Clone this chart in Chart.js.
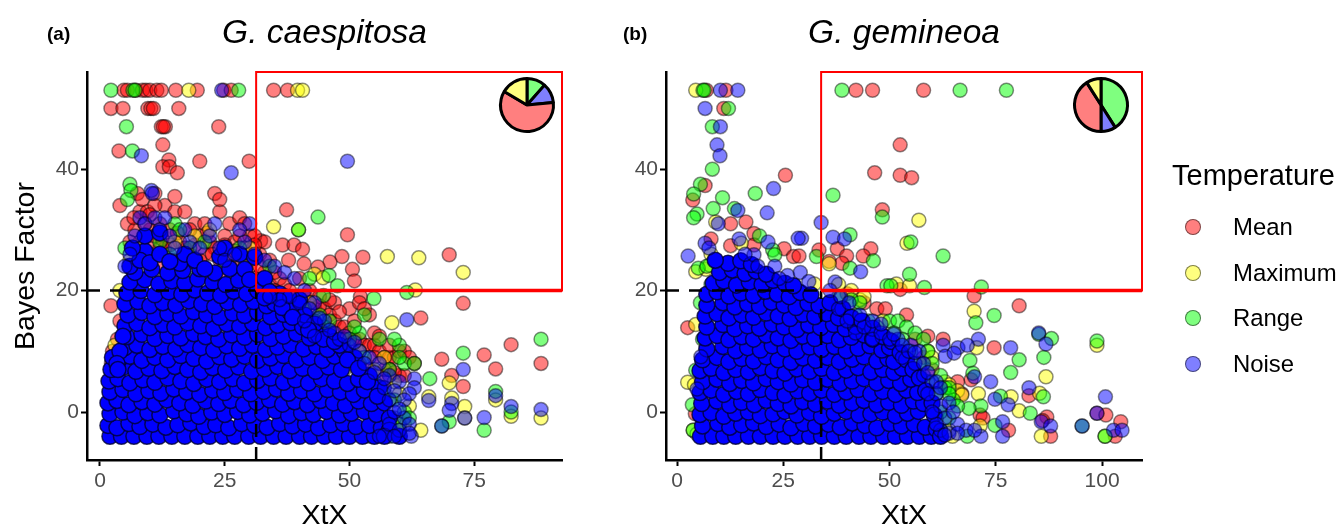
<!DOCTYPE html>
<html>
<head>
<meta charset="utf-8">
<title>G. caespitosa / G. gemineoa</title>
<script src="https://cdn.jsdelivr.net/npm/chart.js@4/dist/chart.umd.min.js"></script>
<style>
  body { margin: 0; background: #fff; width: 1337px; height: 526px; overflow: hidden; position: relative; font-family: "Liberation Sans", Arial, sans-serif; }
  canvas { position: absolute; }
  .tag { position: absolute; font-weight: bold; font-size: 19px; top: 23px; }
  #leyenda { position: absolute; left: 1172px; top: 158px; }
  #leyenda .titulo { font-size: 29px; line-height: 34px; margin-bottom: 12px; white-space: nowrap; }
  #leyenda .fila { position: relative; height: 45.7px; line-height: 45.7px; font-size: 23.9px; padding-left: 61px; white-space: nowrap; }
  #leyenda .punto { position: absolute; left: 13px; top: 15px; width: 14px; height: 14px; border-radius: 50%; border: 1.5px solid rgba(0,0,0,0.5); }
</style>
</head>
<body>
<canvas id="chartA" width="600" height="526" style="left:0;top:0"></canvas>
<canvas id="chartB" width="600" height="526" style="left:579px;top:0"></canvas>
<canvas id="pieA" width="60" height="60" style="left:497px;top:75px"></canvas>
<canvas id="pieB" width="60" height="60" style="left:1071px;top:75px"></canvas>
<div class="tag" style="left:47px">(a)</div>
<div class="tag" style="left:623px">(b)</div>
<div id="leyenda"></div>

<script>
// Categorías y colores
const categorias = ['Mean', 'Maximum', 'Range', 'Noise'];
const rellenos = ['rgba(255,0,0,0.5)', 'rgba(255,255,0,0.5)', 'rgba(0,255,0,0.5)', 'rgba(0,0,255,0.5)'];

// Ejes
const ticksXA = [0, 25, 50, 75];
const ticksXB = [0, 25, 50, 75, 100];
const ticksY = [0, 20, 40];

// Umbrales y recuadros
const corteXA = [[31.3, -7.9], [31.3, 20]];
const corteYA = [[-2.6, 20], [31.3, 20]];
const cajaA = [[31.3, 20], [92.6, 20], [92.6, 56], [31.3, 56], [31.3, 20]];
const corteXB = [[33.9, -7.9], [33.9, 20]];
const corteYB = [[-2.6, 20], [33.9, 20]];
const cajaB = [[33.9, 20], [109.4, 20], [109.4, 56], [33.9, 56], [33.9, 20]];

// Tartas (orden horario desde arriba: Range, Noise, Mean, Maximum)
const tartaEtiquetas = ['Range', 'Noise', 'Mean', 'Maximum'];
const tartaA = [11.5, 12, 60, 16.5];
const tartaB = [41, 9, 41, 9];

// ---- Panel (a) G. caespitosa ----
const meanA = [[4.8,53],[5.5,53],[7.2,53],[8.5,53],[9.2,53],[10,53],[11.4,53],[12.3,53],[15.2,53],[19.5,53],[24.8,53],[26.3,53],[34.8,53],[37.6,53],
[2.2,50],[4.6,50],[9.6,50],[10.2,50],[10.7,50],[15.8,50],[12.3,47],[13.1,47],[12.7,47],[23.8,47],[3.8,43],[12.6,44],[13.8,41.5],[12.6,40.4],[13.9,40.4],[15.5,39.4],[20,41.3],[29.9,41.3],
[37.4,33.3],[49.6,29.2],[36.6,27.5],[38.9,27.5],[40.6,26.8],[48.5,25.6],[52.7,25.5],[70,25.9],[46.1,24.7],[50.6,23.5],[51,21.6],[40.9,24.4],[37.8,25],[43.7,23.9],[52.2,19],[32.2,28.2],
[72.8,17.9],[64.3,15.5],[82.4,11.1],[77,9.4],[68.5,8.7],[88.4,8],[79.3,7.1],[70.5,6],[72.8,4.2],
[4,34],[5.5,31],[7,30],[8,33],[7.5,36],[8.5,35],[9.5,33],[11,36],[13,34],[15,35.5],[15,33],[17,33],[19,31],[21,31],[23,36],[24,33],[24,35],[26,31],[28,32],[29,31],[30,29],[31,29],[33,28],[20,29],[22,28],[25,29],[27,28],[12,31],[14,30],[10,28],[9,26],[13,27],[16,28],[18,26],[23,27],[28,25],[30,26],[32,26],[33,23],[31,22],[34,21],[12,24],[16,23],[20,23],[24,23],[28,22],[7,24],[8,28],[36,22],[37,21],[38,20],
[39,19],[41,19],[43,17],[45,17],[46,16],[47,15],[48,14],[49,14],[50,13],[51,12],[52,12],[53,11],[54,11],[55,11],[56,10],[57,9],[58,9],[59,9],[60,10],[61,10],[62,9],[63,8],[58,7],[60,6],[57,5],[50,17],[52,18],[54,16],[53,17],[47,18],[49,12],[61,6],
[2.5,10],[3,9],[2.3,8],[2.2,17.5],[4,15],[3.5,12],[10,30],[11,34],[9,29],[12,27],[15,25],[18,30],[21,26],[26,26],[30,24],[35,23],[40,22],[42,20],[44,19],
[6,28],[6.8,32],[9,31],[10,32.5],[11,29],[12.5,28.5],[14,27.5],[15.5,29.5],[17,27],[17.5,24.5],[19,27.5],[20,25],[21.5,29.5],[22.5,26],[24,25],[25,27.5],[26,24],[27,26.5],[28,29],[29,27],[31,27.5],[32,24],[34,25],[35,20],[36,19],[38,18],[40,17],[42,15.5],[44,14],[46,12],[48,11],[50,9.5],[52,8],[54,7],[55,9],[57,7],[59,6.5],[42,18],[44,17.5],[46,18.5],[48,16.5],[51,15],[55,13],[56,12.5],[58,11]];
const maximumA = [[17.8,53],[39.6,53],[40.6,53],[34.8,30.5],[39.8,30],[57.6,25.6],[63.9,25.4],[72.8,23],[43,22.7],[44.7,22.1],[63.2,20.1],[58.5,14.7],[70,4.8],[65.9,2.5],[70.5,2.3],[79.3,2],[73.1,0.9],[82.4,-0.7],[88.4,-1],[73.1,-1],[64.3,-3],
[8,27],[13,22],[19,29],[29,24],[34,20],[42,18],[46,13],[50,8],[52,10],[55,7],[57,9],[59,5],[60,3],[62,1],[61,-2],[55,-3],[50,-4],[3,11],[4,20],
[40,16],[44,13],[47,10],[49,7],[53,6],[56,4],[58,2],[59,-1],[60,-3],[57,-3.8],[53,-4],[48,-4],[30,27],[22,30],[15,28],[6,25]];
const rangeA = [[2.2,53],[6.6,53],[7,53],[27.8,53],[5.3,47],[6.5,43],[43.7,32.1],[39.8,30],[45.9,22.5],[47.6,20.8],[44.8,19.2],[54.9,18.7],[61.5,19.7],[88.4,12],[72.8,9.7],[66.1,5.5],[79.3,3.4],[82.4,0],[70,-1.6],[68.5,-2.3],[77,-3],
[6,37.5],[6.2,36.5],[5.5,35],[15,31],[16,30],[12,28],[18,27],[25,24],[34,24],[42,22],[44,16],[45,14],[47,11],[52,13],[53,16],[51,14],[60,11],[61,8],[63,8],[60,9],[59,12],[56,12],[58,7],[3,9],[18,22],[26,21],[33,21],[38,18],[61,0],
[41,17],[43,15],[46,15],[48,9],[50,12],[53,9],[55,5],[57,3],[59,2],[60,-2],[62,-1],[58,-4],[54,-4],[2.6,8.5],[5,27],[14,26],[21,28],[28,27]];
const noiseA = [[24.4,53],[8.3,42.2],[26.3,39.4],[49.6,41.3],[10.3,36.5],[10.5,36],[61.5,15.2],[72.8,7],[65.9,1.9],[79.3,2.7],[70.5,1.4],[70,0.3],[82.4,0.9],[88.4,0.4],[77,-0.9],[73.1,-1],[68.5,-2.3],[62.4,-4],[63,5.5],[63,4],
[5,24],[6,26],[7,29],[8,32],[9,31],[11,32],[12,30],[14,29],[15,27],[18,28],[20,27],[22,29],[24,27],[25,25],[27,26],[29,28],[30,31],[31,26],[33,25],[35,24],[37,23],[39,22],[41,20],[43,18],[45,15],[47,13],[48,12],[50,11],[52,10],[54,9],[56,8],[58,6],[60,5],[62,3],[61,-1],[58,-2],[60,-3],[59,0],[58,2],[57,4],
[38,19],[40,18],[42,17],[44,15.5],[46,13.5],[49,12.5],[51,11.5],[53,8],[55,6.5],[57,5.5],[59,3.5],[61,2],[60,0.5],[62,-2],[62,-3.5],[59,-4],[56,-4],[41,15],[43,12.5],[36,18.5],[34,19],[28,30],[23,31],[17,30],[13,32]];
// Zona saturada de Noise
const nucleoA = [[2,-4],[4.3,-4],[6.8,-4],[9.4,-4],[11.8,-4],[14.4,-4],[17,-4],[19.6,-4],[22,-4],[24.6,-4],[27,-4],[29.8,-4],[32.2,-4],[34.8,-4],[37.3,-4],[40,-4],[42.4,-4],[45,-4],[47.4,-4],[50,-4],[52.6,-4],[55,-4],
[1.6,-2.2],[3.4,-2.6],[5.8,-1.9],[8,-2.4],[10.6,-2],[13.2,-2.5],[15.6,-2.1],[18.2,-1.8],[20.9,-2.4],[23.2,-2.1],[25.8,-2.6],[28.4,-1.9],[31,-2.2],[33.5,-2.5],[36,-1.9],[38.6,-2.3],[41.2,-2],[43.8,-2.6],[46.2,-2.1],[48.8,-1.9],[51.3,-2.4],[54,-2.2],[56.4,-2.6],
[2,-0.3],[4.6,0],[7,-0.6],[9.6,-0.1],[12,-0.5],[14.8,0.2],[17.4,-0.3],[19.8,-0.7],[22.4,0],[25,-0.4],[27.6,0.1],[30,-0.5],[32.6,-0.2],[35.2,0.2],[37.8,-0.6],[40.4,-0.1],[42.8,-0.4],[45.4,0.1],[48,-0.5],[50.4,-0.2],[53,0.1],[55.4,-0.4],
[1.6,1.5],[3.4,1.9],[5.8,1.2],[8.4,1.7],[11,1.3],[13.4,2],[16,1.5],[18.6,1.1],[21.2,1.8],[23.8,1.4],[26.2,1.9],[28.8,1.2],[31.4,1.6],[34,2],[36.6,1.3],[39,1.7],[41.6,1.2],[44.2,1.9],[46.8,1.5],[49.2,1.1],[51.8,1.8],[54.4,1.4],
[2,3.3],[4.6,3.7],[7.2,3],[9.8,3.5],[12.2,3.1],[14.8,3.8],[17.4,3.3],[20,2.9],[22.6,3.6],[25,3.2],[27.6,3.7],[30.2,3],[32.8,3.4],[35.4,3.8],[37.8,3.1],[40.4,3.5],[43,3],[45.6,3.7],[48.2,3.3],[50.8,2.9],[53,3.6],
[1.8,5.1],[3.6,5.5],[6,4.8],[8.6,5.3],[11,4.9],[13.6,5.6],[16.2,5.1],[18.8,4.7],[21.4,5.4],[24,5],[26.6,5.5],[29,4.8],[31.6,5.2],[34.2,5.6],[36.8,4.9],[39.2,5.3],[41.8,4.8],[44.4,5.5],[47,5.1],[49.6,4.7],[51.8,5.4],
[2.2,7],[4.8,7.4],[7.2,6.7],[9.8,7.2],[12.4,6.8],[15,7.5],[17.6,7],[20.2,6.6],[22.6,7.3],[25.2,6.9],[27.8,7.4],[30.4,6.7],[33,7.1],[35.6,7.5],[38,6.8],[40.6,7.2],[43.2,6.7],[45.8,7.4],[48.4,7],
[4,8.8],[6,9.2],[8.4,8.5],[11,9],[13.6,8.6],[16.2,9.3],[18.8,8.8],[21.4,8.4],[24,9.1],[26.4,8.7],[29,9.2],[31.6,8.5],[34.2,8.9],[36.8,9.3],[39.4,8.6],[42,9],[44.6,8.5],[47,9.2],
[5,10.6],[7.4,11],[10,10.3],[12.6,10.8],[15.2,10.4],[17.6,11.1],[20.2,10.6],[22.8,10.2],[25.4,10.9],[28,10.5],[30.6,11],[33.2,10.3],[35.6,10.7],[38.2,11.1],[40.8,10.4],[43.4,10.8],[45.6,10.3],
[5.4,12.4],[8.4,12.8],[11,12.1],[13.6,12.6],[16.2,12.2],[18.8,12.9],[21.2,12.4],[23.8,12],[26.4,12.7],[29,12.3],[31.6,12.8],[34.2,12.1],[36.8,12.5],[39.4,12.9],[42,12.2],[43.8,12.6],
[5,14.2],[7.4,14.6],[10,13.9],[12.6,14.4],[15,14],[17.6,14.7],[20.2,14.2],[22.8,13.8],[25.4,14.5],[28,14.1],[30.6,14.6],[33.2,13.9],[35.6,14.3],[38.2,14.7],[40.6,14],
[5.6,16],[8.4,16.4],[11,15.7],[13.6,16.2],[16.2,15.8],[18.8,16.5],[21.4,16],[24,15.6],[26.6,16.3],[29,15.9],[31.6,16.4],[34.2,15.7],[36.8,16.1],[38,16.5],
[5,17.8],[7.6,18.2],[10,17.5],[12.6,18],[15.2,17.6],[17.8,18.3],[20.4,17.8],[23,17.4],[25.6,18.1],[28.2,17.7],[30.8,18.2],[33.4,17.5],[35,17.9],
[5.4,19.6],[8.2,20],[11,19.3],[13.8,19.8],[16.4,19.4],[19,20.1],[21.6,19.6],[24.2,19.2],[26.8,19.9],[29.4,19.5],[31.6,20],
[6,21.4],[9,21.8],[11.8,21.1],[14.4,21.6],[17,21.2],[19.6,21.9],[22.6,21.4],[25.2,21],[27.8,21.7],
[7,23],[10.4,23.5],[13.6,22.9],[16.6,23.3],[20,23.6],[23,22.9],[9,26.5],[16,24.5],[24,25.6],[28,26],[31,25.5],
[6,24],[8,25],[10,24.6],[12,26],[14,24.8],[17,26],[19,25],[21,23.6],[26,23.6],[29,23.5],[6.5,27],[9,29],[12,29.5],[25,27],[30,21.8],[33,22],[36,19.5],[39,17.5],[41,16],[43,14.5],[46,12.5],[49,10],[51,9],[54,6],[56,4],[57,1.5],[58,-1],[58,-3],[57,-4],[60,-4],[48,11],[40,18.5],[37,19],[34,19.8],[2.5,9],[4,10],
[33,18.8],[36.5,17.2],[38.6,15.6],[41.8,13.5],[44.8,12],[47,11.6],[49.6,8.6],[51.8,7.2],[53.6,5],[55.6,2.6],[3.4,8],[4.6,12.5],[3.6,7]];

// ---- Panel (b) G. gemineoa ----
const meanB = [[6.9,53],[11.5,53],[42.1,53],[46,53],[58,53],[11,50],[52.5,44],[46.5,39.4],[52.5,39],[55.2,38.6],[25.5,39],[6.6,37.3],[3.7,34.9],[48.3,33.3],[12.6,31],[16.2,31.3],[18.1,29.4],[8,28.5],[12.6,27.4],[18.1,27.5],[25.2,26.9],[45.6,26.9],[37.7,26.9],[33.4,26.7],[27.4,25.6],[28.7,25.7],[35.8,24.8],[39.9,25.7],[43.8,25.7],[38.8,24.5],[52.5,20.2],[69.9,19.1],
[80.5,17.5],[62.6,12],[74.6,10.6],[69.2,5.3],[82.8,2.7],[98.8,-0.2],[100.9,-0.5],[104.4,-1.6],[103.1,-4],[87.9,-4],[78,-3],[71.3,-0.5],[2.5,13.9],[4.3,-0.3],[40,19.5],[44,18],[47,17],[49,17],[56,12],[59,12.5],[58,9],[54,16],[60,7],[66,5],[67,3],[72,-1],[87,-0.8],[86,-1.4]];
const maximumB = [[4.4,53],[9.1,31.3],[56.9,31.6],[54.1,27.8],[15.1,27.8],[35.8,24.4],[4.4,23.1],[6.8,23.5],[7.7,24.2],[51.6,21.1],[54.7,20.8],[32.3,21.1],[69.9,16.6],[70.5,10.6],[86.8,5.8],[85.3,3.1],[70.9,3],[78.6,2.5],[80.5,0.2],[98.8,11],[85.7,-4],[71.3,-2.3],[64.8,-4],[100.7,-4],[4.4,14.4],[2.5,4.9],[4.1,4.5],[3.8,-3],[4.7,-3.6],
[38,21],[41,20],[43,18.5],[44,19],[48.5,15],[59,10],[60,9],[63,5],[64,4.5],[66,3.5],[67,2.8],[64,-3],[59,2],[8,26],[12,22.5]];
const rangeB = [[6.1,53],[6.4,53],[38.8,53],[66.6,53],[77.5,53],[12.1,50],[8.3,47],[8.3,40],[18.4,36],[36.7,35.7],[5.5,37.5],[3.9,35.9],[10.7,35.3],[8.5,33.5],[13.5,33.5],[4.7,32.6],[3.9,32],[48.3,32.1],[55,28],[62.6,25.7],[19.4,29],[40.7,29.2],[22.5,26.7],[23,25.9],[32.8,25.6],[46.2,24.9],[40.7,23.7],[54.7,22.7],[5,23.7],[49.4,20.8],[50.3,20.8],[58.2,20.5],[71.6,20.6],[74.6,15.9],[70.3,14.7],[85.1,12.8],[88.1,12.1],[98.8,11.7],[80.5,8.6],[86.3,9],[68.9,8.5],[78.5,6.5],[69.6,6.4],[86.2,2.5],[76.1,2.6],[83.1,-0.2],[74.8,-2.2],[68.3,-4],[71.5,1],[68.7,0.6],[4.4,6.9],[3.6,1.2],[100.7,-4],[95.3,-2.3],[3.8,-3],
[38,19],[41,18.5],[43,18],[42,16],[45,15],[47,14],[50,15],[52,15],[54,14],[56,13],[58,12],[59,10],[60,8],[62,6],[63,4],[64,4],[65,2],[64,3],[66,1],[64,-1],[62,-3],[61,-1],[60,-4],[6,12],[5.5,18],[8,21],[7,24],
[39,17],[44,13],[48,12],[51,13],[53,12],[55,10],[57,8],[59,5],[61,3],[62,0]];
const noiseB = [[10.2,53],[14.3,53],[6.6,50],[10.2,47],[9.4,44],[10.1,42.2],[22.7,36.8],[14.3,33.2],[21.2,32.8],[9.7,31],[33.9,31.2],[36.7,28.8],[39.4,28.5],[29.3,28.6],[28.5,28.6],[21.4,28],[14.6,28.5],[6.6,27.8],[2.6,25.7],[18.1,25.9],[43.2,23.1],[37.2,21.4],[23,24],[26,22.5],[29,23],[16,26],[7.5,27],
[85.1,13],[86.8,11.2],[78.5,10.6],[70.9,12],[66.1,10.6],[68.3,11],[62.6,11],[63.1,9.2],[65.2,9.7],[70,5.8],[73.8,5],[82.8,4],[100.8,2.5],[74.8,2.1],[77.9,1.2],[98.8,-0.2],[85.7,-1.6],[87.9,-2.3],[95.3,-2.3],[102.7,-3],[104.7,-3],[76.6,-4],[76.6,-1.6],[71.5,-4],[5.6,9.1],[4.7,3.8],
[38,17],[40,15],[42,13],[44,14],[46,12],[48,13],[50,12],[52,12],[53,9],[55,11],[56,8],[57,10],[58,6],[60,5],[61,3],[62,1],[63,-1],[62,-3],[64,-3.5],[61,-2],[60,0],[59,3],[66,-2],[68,-3],[70,-3],
[36,20],[38.5,19],[40.5,18],[43,16],[46,15],[48,14.5],[51,12.8],[53,11],[54.5,10],[56,9.8],[58,8],[59,6.5],[61,5],[62,4],[64,1.5],[65,0],[66,-3.5],[63,-3.8],[19,24],[24,22],[31,21.5]];
// Zona saturada de Noise
const nucleoB = [[5.5,-4],[8.4,-4],[11,-4],[13.8,-4],[16.8,-4],[19.6,-4],[22.6,-4],[25.4,-4],[28.4,-4],[31.2,-4],[34,-4],[37,-4],[39.8,-4],[42.8,-4],[45.6,-4],[48.6,-4],[51.4,-4],[54.2,-4],[57,-4],[59.8,-4],
[6,-2.3],[9.6,-1.9],[12.4,-2.5],[15.2,-2.1],[18,-1.8],[21,-2.4],[24,-2],[26.8,-2.6],[29.8,-1.9],[32.6,-2.3],[35.6,-2],[38.4,-2.5],[41.2,-1.8],[44.2,-2.2],[47,-2.6],[50,-1.9],[52.8,-2.3],[55.8,-2],[58.4,-2.5],
[5.4,-0.4],[8,-0.1],[11,-0.7],[13.8,-0.2],[16.8,0],[19.6,-0.6],[22.6,-0.3],[25.4,0.1],[28.2,-0.5],[31.2,-0.1],[34,-0.7],[37,-0.2],[39.8,0.1],[42.8,-0.5],[45.6,-0.3],[48.4,0],[51.4,-0.6],[54.2,-0.2],[56.8,0.1],
[5.8,1.4],[9.4,1.8],[12.4,1.1],[15.2,1.6],[18.2,1.2],[21,1.9],[23.8,1.4],[26.8,1],[29.6,1.7],[32.6,1.3],[35.4,1.8],[38.2,1.1],[41.2,1.5],[44,1.9],[47,1.2],[49.8,1.6],[52.8,1.1],[55.6,1.8],[58,1.4],
[5.4,3.2],[8,3.6],[11,2.9],[14,3.4],[16.8,3],[19.6,3.7],[22.6,3.2],[25.4,2.8],[28.4,3.5],[31.2,3.1],[34,3.6],[37,2.9],[39.8,3.3],[42.6,3.7],[45.6,3],[48.4,3.4],[51.4,2.9],[54,3.6],[56.6,3.2],
[6,5],[9.4,5.4],[12.4,4.7],[15.2,5.2],[18,4.8],[21,5.5],[23.8,5],[26.8,4.6],[29.6,5.3],[32.6,4.9],[35.4,5.4],[38.4,4.7],[41.2,5.1],[44,5.5],[47,4.8],[49.8,5.2],[52.6,4.7],[55,5.4],
[5.4,6.8],[8,7.2],[11,6.5],[13.8,7],[16.8,6.6],[19.6,7.3],[22.6,6.8],[25.4,6.4],[28.2,7.1],[31.2,6.7],[34,7.2],[37,6.5],[39.8,6.9],[42.6,7.3],[45.6,6.6],[48.4,7],[51,6.5],[53,7.2],
[6,8.6],[9.4,9],[12.2,8.3],[15.2,8.8],[18,8.4],[21,9.1],[23.8,8.6],[26.8,8.2],[29.6,8.9],[32.6,8.5],[35.4,9],[38.2,8.3],[41.2,8.7],[44,9.1],[47,8.4],[49.6,8.8],[51,8.3],
[7,10.4],[10.8,10.8],[13.8,10.1],[16.6,10.6],[19.6,10.2],[22.4,10.9],[25.4,10.4],[28.2,10],[31.2,10.7],[34,10.3],[37,10.8],[39.8,10.1],[42.6,10.5],[45.4,10.9],[48.2,10.2],[50,10.6],
[6.6,12.2],[9.4,12.6],[12.2,11.9],[15.2,12.4],[18,12],[21,12.7],[23.8,12.2],[26.8,11.8],[29.6,12.5],[32.4,12.1],[35.4,12.6],[38.2,11.9],[41,12.3],[44,12.7],[46,12],
[7,14],[10.8,14.4],[13.6,13.7],[16.6,14.2],[19.4,13.8],[22.4,14.5],[25.2,14],[28.2,13.6],[31,14.3],[33.8,13.9],[36.8,14.4],[39.6,13.7],[42,14.1],
[6.6,15.8],[9.4,16.2],[12.2,15.5],[15.2,16],[18,15.6],[21,16.3],[23.8,15.8],[26.6,15.4],[29.6,16.1],[32.4,15.7],[35.2,16.2],[38,15.5],
[7,17.6],[10.8,18],[13.6,17.3],[16.6,17.8],[19.4,17.4],[22.2,18.1],[25.2,17.6],[28,17.2],[30.8,17.9],[33.4,17.5],[36,18],
[7,19.4],[9.4,19.8],[12.2,19.1],[15,19.6],[18,19.2],[20.8,19.9],[23.6,19.4],[26.4,19],[29,19.7],[31.5,19.3],
[8.5,21.2],[11,21.6],[14,20.9],[17,21.4],[20,21],[22.6,21.7],[25.4,21.2],[27.4,20.8],
[10,23],[13,23.4],[16,22.8],[18.6,23.2],[21,22.7],[12,24.5],[15,24.9],[17.5,24.3],[9,25],
[39,17],[41,15.6],[43.5,15],[46,13.8],[48.5,12.4],[50.5,11.6],[52.5,9.8],[54,8.6],[55.5,7],[57,5.6],[58.5,3.5],[60,1.5],[60.5,-0.5],[61,-2.8],[62,-4]];

// Construye un panel de dispersión
function panelDispersion(idCanvas, titulo, conTituloY, xMax, margenDer, ticksX, serie, nucleo, corteX, corteY, caja) {
    const linea = (data, color, ancho, guiones) => ({
        label: '', data, showLine: true, pointRadius: 0, borderColor: color, borderWidth: ancho,
        borderDash: guiones, fill: false, clip: false
    });
    const puntos = (label, data, relleno) => ({
        label, data, pointRadius: 7, pointBackgroundColor: relleno,
        pointBorderColor: 'rgba(0,0,0,0.45)', pointBorderWidth: 1.5, showLine: false
    });

    // El primer dataset se pinta encima de los demás
    return new Chart(document.getElementById(idCanvas), {
        type: 'scatter',
        data: {
            datasets: [
                linea(caja, '#ff0000', 2, []),
                linea(caja.slice(0, 2), '#ff0000', 3.5, []),
                linea(corteX, '#000', 2.5, [13, 10]),
                linea(corteY, '#000', 2.5, [13, 10]),
                puntos('Noise', serie.noise, rellenos[3]),
                { ...puntos('Noise', nucleo, '#0000ff'), pointRadius: 8, pointBorderColor: 'rgba(0,0,50,0.8)' },
                puntos('Range', serie.range, rellenos[2]),
                puntos('Maximum', serie.maximum, rellenos[1]),
                puntos('Mean', serie.mean, rellenos[0])
            ]
        },
        options: {
            responsive: false,
            animation: false,
            events: [],
            layout: { padding: { left: 0, right: margenDer, top: 0, bottom: 0 } },
            plugins: {
                legend: { display: false },
                tooltip: { enabled: false },
                title: {
                    display: true, text: titulo, fullSize: false, color: '#000',
                    font: { family: 'Liberation Sans', style: 'italic', weight: 'normal', size: 33.5, lineHeight: 1.2 },
                    padding: { top: 14, bottom: 17.8 }
                }
            },
            scales: {
                x: {
                    type: 'linear', min: -2.6, max: xMax,
                    afterBuildTicks: eje => { eje.ticks = ticksX.map(v => ({ value: v })); },
                    afterFit: eje => { eje.height = 66; },
                    border: { color: '#000', width: 2.5 },
                    grid: { drawOnChartArea: false, tickColor: '#000', tickLength: 6, tickWidth: 2 },
                    ticks: { color: '#4d4d4d', padding: 3, maxRotation: 0, font: { family: 'Liberation Sans', size: 21 } },
                    title: { display: true, text: 'XtX', color: '#000', padding: { top: 2, bottom: -7 }, font: { family: 'Liberation Sans', size: 28.5 } }
                },
                y: {
                    type: 'linear', min: -7.9, max: 56,
                    afterBuildTicks: eje => { eje.ticks = ticksY.map(v => ({ value: v })); },
                    afterFit: eje => { eje.width = 87; },
                    border: { color: '#000', width: 2.5 },
                    grid: { drawOnChartArea: false, tickColor: '#000', tickLength: 6, tickWidth: 2 },
                    ticks: { color: '#4d4d4d', padding: 2, font: { family: 'Liberation Sans', size: 21 } },
                    title: { display: conTituloY, text: 'Bayes Factor', color: '#000', padding: { top: 9, bottom: 0 }, font: { family: 'Liberation Sans', size: 28.5 } }
                }
            }
        }
    });
}

function tarta(idCanvas, valores) {
    const colores = { Range: '#7fff7f', Noise: '#7f7fff', Mean: '#ff7f7f', Maximum: '#ffff7f' };
    return new Chart(document.getElementById(idCanvas), {
        type: 'pie',
        data: {
            labels: tartaEtiquetas,
            datasets: [{ data: valores, backgroundColor: tartaEtiquetas.map(n => colores[n]), borderColor: '#000', borderWidth: 3 }]
        },
        options: {
            responsive: false, animation: false, events: [],
            layout: { padding: 2 },
            plugins: { legend: { display: false }, tooltip: { enabled: false } }
        }
    });
}

panelDispersion('chartA', 'G. caespitosa', true, 92.6, 38, ticksXA,
    { mean: meanA, maximum: maximumA, range: rangeA, noise: noiseA }, nucleoA, corteXA, corteYA, cajaA);
panelDispersion('chartB', 'G. gemineoa', false, 109.4, 37, ticksXB,
    { mean: meanB, maximum: maximumB, range: rangeB, noise: noiseB }, nucleoB, corteXB, corteYB, cajaB);
tarta('pieA', tartaA);
tarta('pieB', tartaB);

// Leyenda compartida
const leyenda = document.getElementById('leyenda');
leyenda.innerHTML = '<div class="titulo">Temperature</div>' + categorias.map((nombre, i) =>
    `<div class="fila"><span class="punto" style="background:${rellenos[i]}"></span>${nombre}</div>`).join('');
</script>
</body>
</html>
